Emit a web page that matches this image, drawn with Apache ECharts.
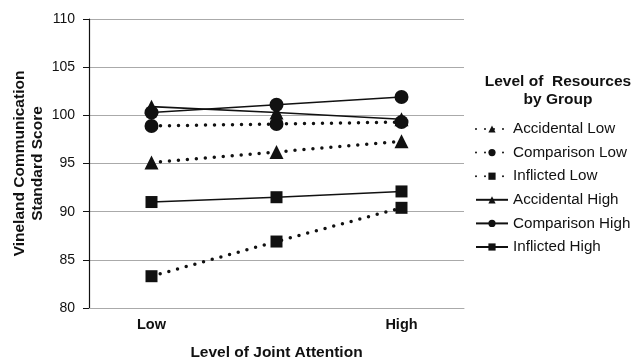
<!DOCTYPE html>
<html><head><meta charset="utf-8">
<script src="https://cdn.jsdelivr.net/npm/echarts@6/dist/echarts.min.js"></script>
<style>html,body{margin:0;padding:0;background:#fff}#c{width:634px;height:360px}</style>
</head><body><div id="c"></div>
<script>
var categories = ['Low', '', 'High'];
var yTicks = [80, 85, 90, 95, 100, 105, 110];
var accidentalLow = [95.1, 96.2, 97.3];
var comparisonLow = [98.9, 99.1, 99.3];
var inflictedLow = [83.3, 86.9, 90.4];
var accidentalHigh = [100.9, 100.3, 99.6];
var comparisonHigh = [100.3, 101.1, 101.9];
var inflictedHigh = [91.0, 91.5, 92.1];

var FONT = '"Liberation Sans", Arial, Helvetica, sans-serif';
var chart = echarts.init(document.getElementById('c'), null, {renderer: 'canvas'});
function mk(name, data, symbol, size, dotted) {
  return {
    name: name, type: 'line', data: data, symbol: symbol, symbolSize: size,
    itemStyle: {color: '#111'},
    lineStyle: dotted ? {color: '#111', width: 3.5, type: [0, 9], cap: 'round'} : {color: '#111', width: 1.6},
    emphasis: {disabled: true}, animation: false, z: dotted ? 2 : 3
  };
}
chart.setOption({
  animation: false,
  title: {text: 'Level of  Resources\nby Group', left: 553, top: 68, textAlign: 'center',
    textStyle: {fontFamily: FONT, fontSize: 15.5, fontWeight: 'bold', color: '#111', lineHeight: 18}},
  grid: {left: 89, right: 170, top: 19, bottom: 52, containLabel: false, outerBoundsMode: 'none'},
  legend: {
    orient: 'vertical', left: 470, top: 116, itemWidth: 32, itemHeight: 9, itemGap: 7.6,
    textStyle: {fontFamily: FONT, fontSize: 15.2, color: '#111', lineHeight: 16},
    data: ['Accidental Low', 'Comparison Low', 'Inflicted Low', 'Accidental High', 'Comparison High', 'Inflicted High']
  },
  xAxis: {
    type: 'category', data: categories, boundaryGap: true,
    axisLine: {show: true, lineStyle: {color: '#aaa'}}, axisTick: {show: false},
    axisLabel: {fontFamily: FONT, fontSize: 14.5, fontWeight: 'bold', color: '#111', margin: 9},
    name: 'Level of Joint Attention', nameLocation: 'middle', nameGap: 37, nameMoveOverlap: false,
    nameTextStyle: {fontFamily: FONT, fontSize: 15.5, fontWeight: 'bold', color: '#111'}
  },
  yAxis: {
    type: 'value', min: yTicks[0], max: yTicks[yTicks.length - 1], interval: 5,
    axisLine: {show: true, lineStyle: {color: '#111', width: 1.2}},
    axisTick: {show: true, length: 6, lineStyle: {color: '#111'}},
    splitLine: {lineStyle: {color: '#aaa'}},
    axisLabel: {fontFamily: FONT, fontSize: 14, color: '#111', margin: 14},
    name: 'Vineland Communication\nStandard Score', nameLocation: 'middle', nameGap: 42, nameMoveOverlap: false,
    nameTextStyle: {fontFamily: FONT, fontSize: 15.5, fontWeight: 'bold', color: '#111', lineHeight: 18}
  },
  series: [
    mk('Accidental Low', accidentalLow, 'triangle', 14, true),
    mk('Comparison Low', comparisonLow, 'circle', 14, true),
    mk('Inflicted Low', inflictedLow, 'rect', 12, true),
    mk('Accidental High', accidentalHigh, 'triangle', 14, false),
    mk('Comparison High', comparisonHigh, 'circle', 14, false),
    mk('Inflicted High', inflictedHigh, 'rect', 12, false)
  ]
});
</script></body></html>
